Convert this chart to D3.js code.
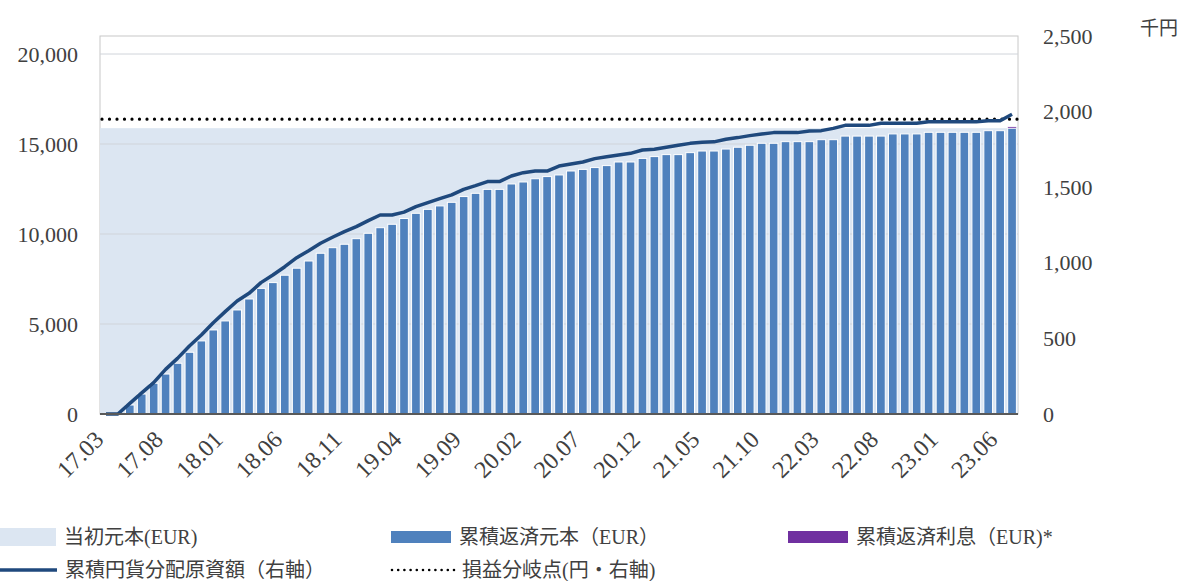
<!DOCTYPE html>
<html>
<head>
<meta charset="utf-8">
<script src="https://cdn.jsdelivr.net/npm/d3@7"></script>
<style>
  body { margin: 0; background: #fff; }
  svg text { font-family: "Liberation Serif", "Times New Roman", "DejaVu Serif", "Noto Sans CJK JP", serif; fill: #404040; }
</style>
</head>
<body>
<div id="chart"></div>
<script>
// months (yy.mm)
const months = [
  "17.03","17.04","17.05","17.06","17.07","17.08","17.09","17.10","17.11","17.12",
  "18.01","18.02","18.03","18.04","18.05","18.06","18.07","18.08","18.09","18.10","18.11","18.12",
  "19.01","19.02","19.03","19.04","19.05","19.06","19.07","19.08","19.09","19.10","19.11","19.12",
  "20.01","20.02","20.03","20.04","20.05","20.06","20.07","20.08","20.09","20.10","20.11","20.12",
  "21.01","21.02","21.03","21.04","21.05","21.06","21.07","21.08","21.09","21.10","21.11","21.12",
  "22.01","22.02","22.03","22.04","22.05","22.06","22.07","22.08","22.09","22.10","22.11","22.12",
  "23.01","23.02","23.03","23.04","23.05","23.06","23.07"
];
const labelMonths = ["17.03","17.08","18.01","18.06","18.11","19.04","19.09","20.02",
  "20.07","20.12","21.05","21.10","22.03","22.08","23.01","23.06"];

// 累積返済元本 (EUR)
const principalRepaid = [
  0, 0, 500, 1110, 1710, 2220, 2820, 3430, 4060, 4670,
  5170, 5780, 6390, 6980, 7300, 7710, 8100, 8500, 8930, 9240,
  9430, 9740, 10040, 10350, 10540, 10860, 11150, 11370, 11560, 11760,
  12080, 12260, 12480, 12480, 12780, 12890, 13070, 13190, 13280, 13500,
  13590, 13690, 13800, 14000, 14000, 14200, 14300, 14410, 14410, 14520,
  14610, 14610, 14720, 14820, 14930, 15040, 15040, 15130, 15130, 15130,
  15240, 15240, 15440, 15440, 15440, 15440, 15560, 15560, 15560, 15650,
  15650, 15650, 15650, 15650, 15740, 15740, 15880
];
// 累積返済利息 (EUR)
const interestRepaid = [
  0, 0, 0, 0, 0, 0, 0, 0, 0, 0,
  0, 0, 0, 0, 0, 0, 0, 0, 0, 0,
  0, 0, 0, 0, 0, 0, 0, 0, 0, 0,
  0, 0, 0, 0, 0, 0, 0, 0, 0, 0,
  0, 0, 0, 0, 0, 0, 0, 0, 0, 0,
  0, 0, 0, 0, 0, 0, 0, 0, 0, 0,
  0, 0, 0, 0, 0, 0, 0, 0, 0, 0,
  0, 0, 0, 0, 0, 0, 70
];
// 累積円貨分配原資額 (千円, right axis)
const jpyDistributed = [
  0, 0, 70, 140, 207, 295, 368, 450, 522, 604,
  677, 747, 798, 869, 919, 974, 1034, 1080, 1129, 1169,
  1206, 1239, 1279, 1316, 1316, 1335, 1371, 1398, 1424, 1449,
  1486, 1510, 1537, 1537, 1574, 1596, 1607, 1607, 1640, 1654,
  1667, 1689, 1702, 1713, 1724, 1746, 1751, 1764, 1777, 1790,
  1797, 1800, 1817, 1828, 1841, 1852, 1861, 1861, 1861, 1872,
  1874, 1889, 1909, 1909, 1909, 1923, 1923, 1923, 1923, 1933,
  1933, 1933, 1933, 1933, 1940, 1940, 1982
];
const initialPrincipal = 15880;   // 当初元本 (EUR)
const breakEven = 1950;           // 損益分岐点 (千円)

const leftTicks = [0, 5000, 10000, 15000, 20000];
const rightTicks = [0, 500, 1000, 1500, 2000, 2500];

// set the dimensions and margins of the graph
const margin = { top: 36, right: 167, bottom: 167, left: 100 },
    width = 918,
    height = 378;

const root = d3.select("#chart")
    .append("svg")
    .attr("width", 1185)
    .attr("height", 581);

const svg = root.append("g")
    .attr("transform", `translate(${margin.left},${margin.top})`);

const x = d3.scaleBand()
    .domain(months)
    .range([0, width])
    .paddingInner(0.27)
    .paddingOuter(0.135);

const yL = d3.scaleLinear().domain([0, 21000]).range([height, 0]);
const yR = d3.scaleLinear().domain([0, 2500]).range([height, 0]);

// plot frame
svg.append("rect")
    .attr("width", width)
    .attr("height", height)
    .attr("fill", "none")
    .attr("stroke", "#c8c8c8");

// 当初元本 area
svg.append("rect")
    .attr("x", 0)
    .attr("y", yL(initialPrincipal))
    .attr("width", width)
    .attr("height", height - yL(initialPrincipal))
    .attr("fill", "#dce6f2");

// gridlines
svg.append("g")
    .selectAll("line")
    .data(leftTicks.filter(d => d > 0))
    .join("line")
    .attr("x1", 0)
    .attr("x2", width)
    .attr("y1", d => yL(d))
    .attr("y2", d => yL(d))
    .attr("stroke", "#d0d4da")
    .attr("stroke-width", 1);

// bars: principal + interest stacked
const rows = months.map((m, i) => ({ m, p: principalRepaid[i], r: interestRepaid[i] }));

svg.append("g")
    .selectAll("rect")
    .data(rows.filter(d => d.p > 0))
    .join("rect")
    .attr("x", d => x(d.m))
    .attr("y", d => yL(d.p))
    .attr("width", x.bandwidth())
    .attr("height", d => height - yL(d.p))
    .attr("fill", "#4f81bd")
    .attr("stroke", "#ffffff")
    .attr("stroke-width", 1);

svg.append("g")
    .selectAll("rect")
    .data(rows.filter(d => d.r > 0))
    .join("rect")
    .attr("x", d => x(d.m))
    .attr("y", d => yL(d.p + d.r))
    .attr("width", x.bandwidth())
    .attr("height", d => yL(d.p) - yL(d.p + d.r))
    .attr("fill", "#7030a0")
    .attr("stroke", "#ffffff")
    .attr("stroke-width", 0.5);

// break-even dotted line
svg.append("line")
    .attr("x1", 2)
    .attr("x2", width)
    .attr("y1", yR(breakEven))
    .attr("y2", yR(breakEven))
    .attr("stroke", "#000")
    .attr("stroke-width", 3.2)
    .attr("stroke-linecap", "round")
    .attr("stroke-dasharray", "0,7.5");

// cumulative JPY line
const line = d3.line()
    .x((d, i) => x(months[i]) + x.bandwidth() / 2)
    .y(d => yR(d));

svg.append("path")
    .datum(jpyDistributed)
    .attr("d", line)
    .attr("fill", "none")
    .attr("stroke", "#1f497d")
    .attr("stroke-width", 3.5)
    .attr("stroke-linejoin", "round");

// bottom axis line
svg.append("line")
    .attr("x1", 0)
    .attr("x2", width)
    .attr("y1", height)
    .attr("y2", height)
    .attr("stroke", "#595959")
    .attr("stroke-width", 2);

// left axis
svg.append("g")
    .call(d3.axisLeft(yL).tickValues(leftTicks).tickFormat(d3.format(",")).tickSize(0).tickPadding(22))
    .call(g => g.select(".domain").remove())
    .attr("font-family", null)
    .selectAll("text")
    .style("font-size", "22px");

// right axis
svg.append("g")
    .attr("transform", `translate(${width},0)`)
    .call(d3.axisRight(yR).tickValues(rightTicks).tickFormat(d3.format(",")).tickSize(0).tickPadding(25))
    .call(g => g.select(".domain").remove())
    .attr("font-family", null)
    .selectAll("text")
    .style("font-size", "22px");

svg.append("text")
    .attr("x", 1040)
    .attr("y", -8)
    .attr("dy", "0.35em")
    .style("font-size", "19px")
    .text("千円");

// bottom axis labels
svg.append("g")
    .attr("transform", `translate(0,${height})`)
    .call(d3.axisBottom(x).tickValues(labelMonths).tickSize(0))
    .call(g => g.select(".domain").remove())
    .attr("font-family", null)
    .selectAll("text")
    .attr("x", null)
    .attr("y", null)
    .attr("dy", "0.35em")
    .attr("text-anchor", "end")
    .attr("transform", "translate(-7,21) rotate(-45)")
    .style("font-size", "24px");

// legend
const legend = root.append("g");
const items = [
  { label: "当初元本(EUR)", type: "rect", color: "#dce6f2", x: 0, w: 56, y: 537, h: 18 },
  { label: "累積返済元本（EUR）", type: "rect", color: "#4f81bd", x: 391, w: 60, y: 537, h: 12 },
  { label: "累積返済利息（EUR)*", type: "rect", color: "#7030a0", x: 788, w: 60, y: 537, h: 12 },
  { label: "累積円貨分配原資額（右軸）", type: "line", color: "#1f497d", x: 0, w: 57, y: 570 },
  { label: "損益分岐点(円・右軸)", type: "dot", color: "#000", x: 390, w: 64, y: 570 }
];
items.forEach(d => {
  if (d.type === "rect") {
    legend.append("rect")
      .attr("x", d.x).attr("y", d.y - d.h / 2)
      .attr("width", d.w).attr("height", d.h)
      .attr("fill", d.color);
  } else if (d.type === "line") {
    legend.append("line")
      .attr("x1", d.x).attr("x2", d.x + d.w)
      .attr("y1", d.y).attr("y2", d.y)
      .attr("stroke", d.color).attr("stroke-width", 3.5);
  } else {
    legend.append("line")
      .attr("x1", d.x + 2).attr("x2", d.x + d.w)
      .attr("y1", d.y).attr("y2", d.y)
      .attr("stroke", d.color).attr("stroke-width", 2.6)
      .attr("stroke-linecap", "round")
      .attr("stroke-dasharray", "0,6.2");
  }
  legend.append("text")
    .attr("x", d.x + d.w + 8)
    .attr("y", d.y)
    .attr("dy", "0.35em")
    .style("font-size", "20px")
    .text(d.label);
});
</script>
</body>
</html>
